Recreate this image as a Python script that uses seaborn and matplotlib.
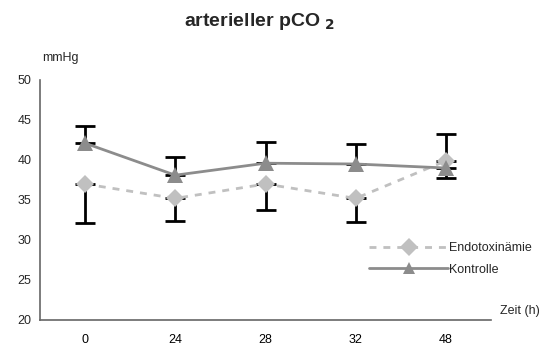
import matplotlib
matplotlib.use("Agg")
import matplotlib.pyplot as plt
import seaborn as sns
import pandas as pd
import numpy as np

zeit = ["0", "24", "28", "32", "48"]
endo = [37.0, 35.2, 37.0, 35.2, 39.9]
endo_err_low = [4.9, 2.8, 3.2, 3.0, 2.1]
kontr = [42.1, 38.1, 39.6, 39.5, 39.0]
kontr_err_up = [2.15, 2.3, 2.6, 2.5, 4.2]

sns.set_theme(style="white")
plt.rcParams['font.family'] = ['Liberation Sans', 'DejaVu Sans']

df = pd.DataFrame({
    "Zeit": zeit * 2,
    "Wert": endo + kontr,
    "Gruppe": ["Endotoxinämie"] * 5 + ["Kontrolle"] * 5,
})

fig = plt.figure(figsize=(5.5, 3.47), dpi=100)
ax = fig.add_axes([40/550, 1-320/347, 451/550, 240/347])

c_endo = "#c0c0c0"
c_kon = "#8c8c8c"
xs = np.arange(len(zeit))

ax.errorbar(xs, endo, yerr=[endo_err_low, [0]*5], fmt="none", ecolor="black",
            elinewidth=2, capsize=7, capthick=2, zorder=1)
ax.errorbar(xs, kontr, yerr=[[0]*5, kontr_err_up], fmt="none", ecolor="black",
            elinewidth=2, capsize=7, capthick=2, zorder=1)

sns.lineplot(data=df, x="Zeit", y="Wert", hue="Gruppe", style="Gruppe",
             palette={"Endotoxinämie": c_endo, "Kontrolle": c_kon},
             markers={"Endotoxinämie": "D", "Kontrolle": "^"},
             dashes={"Endotoxinämie": (2.5, 2.5), "Kontrolle": ""},
             linewidth=2, markeredgewidth=0, ax=ax, zorder=3, sort=False)
for ln in ax.get_lines():
    if ln.get_marker() == "^":
        ln.set_markersize(12)
    elif ln.get_marker() == "D":
        ln.set_markersize(9)

ax.set_xlim(-0.5, 4.5)
ax.set_ylim(20, 50)
ax.set_yticks([20, 25, 30, 35, 40, 45, 50])
ax.set_xticks(xs)
ax.set_xticklabels(zeit)
ax.set_xticks(np.arange(-0.5, 5, 1), minor=True)
ax.tick_params(axis="x", which="major", length=0, pad=10, labelsize=9, colors="black")
ax.tick_params(axis="x", which="minor", length=4, width=1, color="#666666", direction="out")
ax.tick_params(axis="y", length=4, width=1, color="#666666", direction="out", labelsize=9, pad=2)
ax.set_xlabel("")
ax.set_ylabel("")
for s in ["top", "right"]:
    ax.spines[s].set_visible(False)
for s in ["left", "bottom"]:
    ax.spines[s].set_color("#666666")
    ax.spines[s].set_linewidth(1.2)

leg = ax.legend(loc="upper left", bbox_to_anchor=(318/451, 1-(231-80)/240), frameon=False,
                fontsize=9, handlelength=6.3, handletextpad=0.05, labelspacing=0.75)
for h in leg.legend_handles:
    h.set_markersize(9)

fig.text(259/550, 1-22/347, "arterieller pCO$_{\\mathbf{\\ 2}}$", ha="center", va="center",
         fontsize=14, fontweight="bold")
fig.text(42/550, 1-58/347, "mmHg", ha="left", va="center", fontsize=9)
fig.text(500/550, 1-311/347, "Zeit (h)", ha="left", va="center", fontsize=9)

fig.savefig("out.png", dpi=100)
